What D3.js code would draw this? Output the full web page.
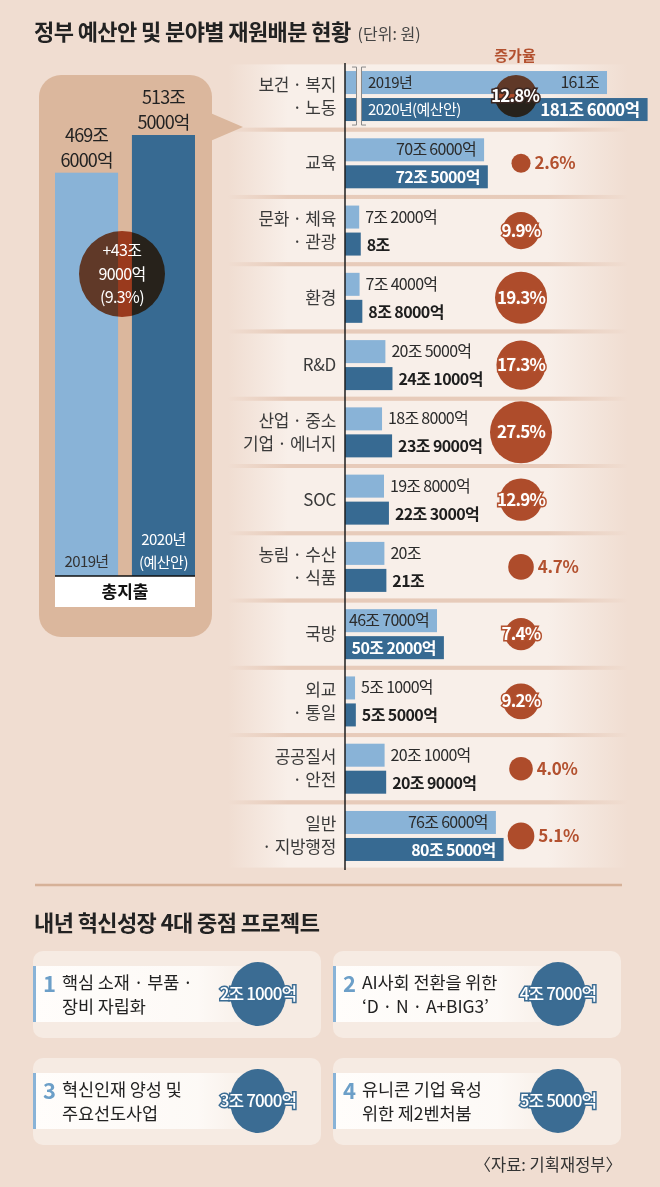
<!DOCTYPE html>
<html>
<head>
<meta charset="utf-8">
<script src="https://cdn.jsdelivr.net/npm/d3@7"></script>
<style>
body { margin: 0; background: #f0ddd1; }
svg { display: block; }
text { font-family: "Noto Sans CJK KR", "Noto Sans", sans-serif; }
</style>
</head>
<body>
<script>
// data (unit: 조 원)
var categories = [['보건 · 복지', '· 노동'], ['교육'], ['문화 · 체육', '· 관광'], ['환경'], ['R&D'],
  ['산업 · 중소', '기업 · 에너지'], ['SOC'], ['농림 · 수산', '· 식품'], ['국방'], ['외교', '· 통일'],
  ['공공질서', '· 안전'], ['일반', '· 지방행정']];
var values2019 = [161, 70.6, 7.2, 7.4, 20.5, 18.8, 19.8, 20, 46.7, 5.1, 20.1, 76.6];
var values2020 = [181.6, 72.5, 8, 8.8, 24.1, 23.9, 22.3, 21, 50.2, 5.5, 20.9, 80.5];
var labels2019 = ['161조', '70조 6000억', '7조 2000억', '7조 4000억', '20조 5000억', '18조 8000억',
  '19조 8000억', '20조', '46조 7000억', '5조 1000억', '20조 1000억', '76조 6000억'];
var labels2020 = ['181조 6000억', '72조 5000억', '8조', '8조 8000억', '24조 1000억', '23조 9000억',
  '22조 3000억', '21조', '50조 2000억', '5조 5000억', '20조 9000억', '80조 5000억'];
var growth = [12.8, 2.6, 9.9, 19.3, 17.3, 27.5, 12.9, 4.7, 7.4, 9.2, 4.0, 5.1];

var totalYears = ['2019', '2020'];
var totalValues = [469.6, 513.5];
var totalLabels = [['469조', '6000억'], ['513조', '5000억']];
var totalDiff = ['+43조', '9000억', '(9.3%)'];

var projects = [['핵심 소재 · 부품 ·', '장비 자립화'], ['AI사회 전환을 위한', '‘D · N · A+BIG3’'],
  ['혁신인재 양성 및', '주요선도사업'], ['유니콘 기업 육성', '위한 제2벤처붐']];
var projectLabels = ['2조 1000억', '4조 7000억', '3조 7000억', '5조 5000억'];

var lightBlue = '#89b3d7', darkBlue = '#376a92', rust = '#b3512f', tan = '#dbb79d';
var breakCut = 28; // the 보건 bars are drawn with a scale break

var svg = d3.select('body').append('svg')
.attr('width', 660)
.attr('height', 1187);

var defs = svg.append('defs');
var addFade = function(id, color, a) {
  var g = defs.append('linearGradient').attr('id', id);
  [[0, 0], [0.15, a], [0.8, a], [1, 0]].forEach(function(s) {
    g.append('stop').attr('offset', s[0]).attr('stop-color', color).attr('stop-opacity', s[1]);
  });
};
addFade('rowFill', '#f8efe9', 1);
addFade('sepFill', '#e7cbba', 1);
var wg = defs.append('linearGradient').attr('id', 'cardFill');
wg.append('stop').attr('offset', 0).attr('stop-color', '#fffdfb').attr('stop-opacity', 1);
wg.append('stop').attr('offset', 0.7).attr('stop-color', '#fffdfb').attr('stop-opacity', 0.8);
wg.append('stop').attr('offset', 1).attr('stop-color', '#fffdfb').attr('stop-opacity', 0);

// titles
var title = svg.append('text').attr('x', 34).attr('y', 40);
title.append('tspan').attr('font-size', 22).attr('font-weight', 700).attr('fill', '#222')
.attr('letter-spacing', -0.6).text('정부 예산안 및 분야별 재원배분 현황');
title.append('tspan').attr('dx', 7).attr('font-size', 16).attr('fill', '#444').text('(단위: 원)');

// ---- right side: categories ----
var y = d3.scaleBand().domain(d3.range(categories.length)).range([62.4, 869.6]);
var x = d3.scaleLinear().domain([0, 100]).range([345, 542]);
var r = d3.scaleSqrt().domain([0, 27.5]).range([0, 31]);
var mid = function(i) { return y(i) + y.bandwidth() / 2; };
var len = function(v) { return v > 100 ? v - breakCut : v; };

svg.append('g').selectAll('rect')
.data(categories)
.enter()
.append('rect')
.attr('x', 228).attr('width', 400)
.attr('y', function(d, i) { return y(i) + 2; })
.attr('height', y.bandwidth() - 4)
.attr('fill', 'url(#rowFill)');

svg.append('g').selectAll('rect')
.data(d3.range(1, categories.length))
.enter()
.append('rect')
.attr('x', 228).attr('width', 400)
.attr('y', function(i) { return y(i) - 2; })
.attr('height', 4)
.attr('fill', 'url(#sepFill)');

svg.append('text')
.attr('x', 515).attr('y', 61)
.attr('text-anchor', 'middle')
.attr('font-size', 15).attr('font-weight', 700)
.attr('fill', rust)
.text('증가율');

// category labels
var catG = svg.append('g').selectAll('text')
.data(categories)
.enter()
.append('text')
.attr('text-anchor', 'end')
.attr('font-size', 17)
.attr('letter-spacing', -0.3)
.attr('fill', '#3a3a3a');
catG.selectAll('tspan')
.data(function(d, i) { return d.map(function(t, k) { return {t: t, k: k, n: d.length, i: i}; }); })
.enter()
.append('tspan')
.attr('x', 336)
.attr('y', function(d) { return mid(d.i) + 6 + (d.n === 1 ? 0 : (d.k === 0 ? -11.5 : 11.5)); })
.text(function(d) { return d.t; });

// bars
svg.append('g').selectAll('rect')
.data(values2019)
.enter()
.append('rect')
.attr('x', x(0))
.attr('y', function(d, i) { return mid(i) - 25; })
.attr('width', function(d) { return x(len(d)) - x(0); })
.attr('height', 23)
.attr('fill', lightBlue);

svg.append('g').selectAll('rect')
.data(values2020)
.enter()
.append('rect')
.attr('x', x(0))
.attr('y', function(d, i) { return mid(i) + 2; })
.attr('width', function(d) { return x(len(d)) - x(0); })
.attr('height', 23)
.attr('fill', darkBlue);

// scale break on the first row
var c0 = mid(0);
svg.append('rect')
.attr('x', 356.5).attr('y', c0 - 27).attr('width', 5).attr('height', 54)
.attr('fill', '#f6ebe3');
svg.append('path')
.attr('d', 'M352,' + (c0 - 29) + 'H356.5V' + (c0 + 29) + 'H352M366,' + (c0 - 29) + 'H361.5V' + (c0 + 29) + 'H366')
.attr('fill', 'none').attr('stroke', '#8a8a8a').attr('stroke-width', 1);

svg.append('line')
.attr('x1', 345).attr('x2', 345).attr('y1', 63).attr('y2', 870)
.attr('stroke', '#1e1e1e').attr('stroke-width', 1.5);

// growth circles
svg.append('g').selectAll('circle')
.data(growth)
.enter()
.append('circle')
.attr('cx', function(d, i) { return i === 0 ? 516 : 521; })
.attr('cy', function(d, i) { return mid(i); })
.attr('r', function(d) { return r(d); })
.attr('fill', rust)
.style('mix-blend-mode', 'multiply');

// bar value labels
svg.append('g').selectAll('text')
.data(values2019)
.enter()
.append('text')
.attr('x', function(d) { return d > 40 ? x(len(d)) - 8 : x(len(d)) + 6; })
.attr('y', function(d, i) { return mid(i) - 8; })
.attr('text-anchor', function(d) { return d > 40 ? 'end' : 'start'; })
.attr('font-size', 16)
.attr('letter-spacing', -0.7)
.attr('fill', '#2b2b2b')
.text(function(d, i) { return labels2019[i]; });

svg.append('g').selectAll('text')
.data(values2020)
.enter()
.append('text')
.attr('x', function(d) { return d > 40 ? x(len(d)) - 8 : x(len(d)) + 6; })
.attr('y', function(d, i) { return mid(i) + 20; })
.attr('text-anchor', function(d) { return d > 40 ? 'end' : 'start'; })
.attr('font-size', function(d) { return d > 100 ? 17 : 16; })
.attr('font-weight', 700)
.attr('letter-spacing', -0.6)
.attr('fill', function(d) { return d > 40 ? '#fff' : '#1e1e1e'; })
.text(function(d, i) { return labels2020[i]; });

svg.append('text')
.attr('x', 368).attr('y', c0 - 8)
.attr('font-size', 15).attr('letter-spacing', -0.6).attr('fill', '#2b2b2b')
.text('2019년');
svg.append('text')
.attr('x', 368).attr('y', c0 + 19)
.attr('font-size', 15).attr('letter-spacing', -0.6).attr('fill', '#fff')
.text('2020년(예산안)');

// growth labels
svg.append('g').selectAll('text')
.data(growth)
.enter()
.append('text')
.attr('x', function(d, i) { return d >= 7 ? (i === 0 ? 515 : 521) : 521 + r(d) + 4; })
.attr('y', function(d, i) { return mid(i) + 6; })
.attr('text-anchor', function(d) { return d >= 7 ? 'middle' : 'start'; })
.attr('font-size', 17)
.attr('font-weight', 700)
.attr('letter-spacing', function(d) { return d >= 7 ? -0.8 : -0.3; })
.attr('fill', function(d) { return d >= 7 ? '#fff' : rust; })
.attr('stroke', function(d, i) { return d >= 7 ? (i === 0 ? '#3b2722' : rust) : 'none'; })
.attr('stroke-width', 3)
.attr('paint-order', 'stroke')
.text(function(d) { return d.toFixed(1) + '%'; });

// ---- left panel: total spending ----
svg.append('path')
.attr('d', 'M208,112L243,127L208,142Z')
.attr('fill', tan);
svg.append('rect')
.attr('x', 39).attr('y', 75).attr('width', 173).attr('height', 562).attr('rx', 22)
.attr('fill', tan);

var tx = d3.scaleBand().domain(totalYears).range([55, 195]).paddingInner(0.18);
var ty = d3.scaleLinear().domain([0, 513.5]).range([576, 135]);

svg.append('g').selectAll('rect')
.data(totalValues)
.enter()
.append('rect')
.attr('x', function(d, i) { return tx(totalYears[i]); })
.attr('y', function(d) { return ty(d); })
.attr('width', tx.bandwidth())
.attr('height', function(d) { return ty(0) - ty(d); })
.attr('fill', function(d, i) { return i === 0 ? lightBlue : darkBlue; });

svg.append('g').selectAll('text')
.data(totalValues)
.enter()
.append('text')
.attr('text-anchor', 'middle')
.attr('font-size', 18)
.attr('letter-spacing', -0.9)
.attr('fill', '#222')
.each(function(d, i) {
  var t = d3.select(this);
  var cx = tx(totalYears[i]) + tx.bandwidth() / 2;
  t.append('tspan').attr('x', cx).attr('y', ty(d) - 31).text(totalLabels[i][0]);
  t.append('tspan').attr('x', cx).attr('y', ty(d) - 6).text(totalLabels[i][1]);
});

svg.append('rect')
.attr('x', 55).attr('y', 576).attr('width', 140).attr('height', 31)
.attr('fill', '#fff');
svg.append('line')
.attr('x1', 55).attr('x2', 195).attr('y1', 576).attr('y2', 576)
.attr('stroke', '#111').attr('stroke-width', 1.5);
svg.append('text')
.attr('x', 125).attr('y', 598)
.attr('text-anchor', 'middle')
.attr('font-size', 17).attr('font-weight', 700).attr('fill', '#111')
.text('총지출');

var bx0 = tx(totalYears[0]) + tx.bandwidth() / 2;
var bx1 = tx(totalYears[1]) + tx.bandwidth() / 2;
svg.append('text')
.attr('x', bx0).attr('y', 567)
.attr('text-anchor', 'middle').attr('font-size', 15).attr('letter-spacing', -0.6).attr('fill', '#333')
.text('2019년');
var yr = svg.append('text')
.attr('text-anchor', 'middle').attr('font-size', 15).attr('letter-spacing', -0.5).attr('fill', '#fff');
yr.append('tspan').attr('x', bx1).attr('y', 545).text('2020년');
yr.append('tspan').attr('x', bx1).attr('y', 568).text('(예산안)');

svg.append('circle')
.attr('cx', 122).attr('cy', 274).attr('r', 43)
.attr('fill', rust)
.style('mix-blend-mode', 'multiply');
var dt = svg.append('text')
.attr('text-anchor', 'middle').attr('font-size', 16).attr('letter-spacing', -0.6).attr('fill', '#fff');
totalDiff.forEach(function(s, k) {
  dt.append('tspan').attr('x', 122).attr('y', 256 + k * 23.5).text(s);
});

// ---- bottom: 4 projects ----
svg.append('line')
.attr('x1', 35).attr('x2', 622).attr('y1', 885).attr('y2', 885)
.attr('stroke', '#d6b198').attr('stroke-width', 2.5);

svg.append('text')
.attr('x', 34).attr('y', 931)
.attr('font-size', 22).attr('font-weight', 700).attr('letter-spacing', -0.6).attr('fill', '#222')
.text('내년 혁신성장 4대 중점 프로젝트');

var cards = svg.append('g').selectAll('g')
.data(projects)
.enter()
.append('g')
.attr('transform', function(d, i) { return 'translate(' + (i % 2 ? 333 : 33) + ',' + (i < 2 ? 951 : 1058) + ')'; });

cards.append('rect')
.attr('width', 288).attr('height', 87).attr('rx', 10)
.attr('fill', '#f6ebe3');
cards.append('rect')
.attr('y', 15).attr('width', 235).attr('height', 56)
.attr('fill', 'url(#cardFill)');
cards.append('rect')
.attr('y', 15).attr('width', 3).attr('height', 56)
.attr('fill', lightBlue);
cards.append('text')
.attr('x', 10).attr('y', 41)
.attr('font-size', 22).attr('font-weight', 700).attr('fill', '#6c9fc8')
.text(function(d, i) { return i + 1; });
cards.append('text')
.attr('font-size', 17.5).attr('letter-spacing', -0.1).attr('fill', '#222')
.each(function(d) {
  var t = d3.select(this);
  t.append('tspan').attr('x', 29).attr('y', 38).text(d[0]);
  t.append('tspan').attr('x', 29).attr('y', 62).text(d[1]);
});
cards.append('ellipse')
.attr('cx', 225).attr('cy', 43).attr('rx', 28).attr('ry', 32)
.attr('fill', '#3b6c93');
cards.append('text')
.attr('x', 225).attr('y', 49)
.attr('text-anchor', 'middle')
.attr('font-size', 17).attr('font-weight', 500).attr('letter-spacing', -0.9)
.attr('fill', '#fff').attr('stroke', '#3b6c93').attr('stroke-width', 3).attr('paint-order', 'stroke')
.text(function(d, i) { return projectLabels[i]; });

svg.append('text')
.attr('x', 622).attr('y', 1171)
.attr('text-anchor', 'end')
.attr('font-size', 16.5).attr('fill', '#333')
.text('〈자료: 기획재정부〉');
</script>
</body>
</html>
